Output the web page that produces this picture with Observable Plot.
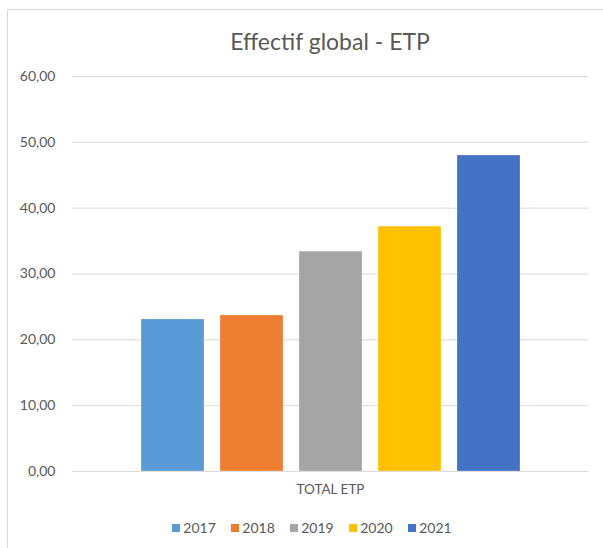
<!DOCTYPE html>
<html>
<head>
<meta charset="utf-8">
<script src="https://cdn.jsdelivr.net/npm/d3@7"></script>
<script src="https://cdn.jsdelivr.net/npm/@observablehq/plot@0.6"></script>
<style>
  html, body { margin: 0; padding: 0; background: #fff; }
  #wrap { position: relative; width: 603px; height: 548px; overflow: hidden; font-family: Lato, "Open Sans", sans-serif; color: #595959; }
  #frame { position: absolute; left: 7px; top: 9px; width: 620px; height: 560px; border: 1px solid #d9d9d9; box-sizing: border-box; }
  #title { position: absolute; left: 0; top: 28px; width: 660px; text-align: center; font-size: 23px; line-height: 1.2; color: #595959; }
  #plot { position: absolute; left: 0; top: 62px; }
  #legend { position: absolute; left: 0; top: 519px; width: 624px; display: flex; justify-content: center; gap: 15.5px; font-size: 14px; line-height: 18px; }
  #legend .item { display: flex; align-items: center; gap: 3px; }
  #legend .sw { width: 8px; height: 8px; display: inline-block; }
</style>
</head>
<body>
<div id="wrap">
  <div id="frame"></div>
  <div id="title"></div>
  <div id="plot"></div>
  <div id="legend"></div>
</div>
<script>
const title = "Effectif global - ETP";
const category = "TOTAL ETP";
const years = ["2017", "2018", "2019", "2020", "2021"];
const values = [23.1, 23.7, 33.4, 37.2, 48.0];
const colors = ["#5B9BD5", "#ED7D31", "#A5A5A5", "#FFC000", "#4472C4"];
const yTicks = [0, 10, 20, 30, 40, 50, 60];

const data = years.map((y, i) => ({year: y, value: values[i]}));
const fmt = v => v.toFixed(2).replace(".", ",");

document.getElementById("title").textContent = title;

const chart = Plot.plot({
  width: 603,
  height: 448,
  marginTop: 14,
  marginBottom: 39,
  marginLeft: 72,
  marginRight: 15,
  style: {fontFamily: "Lato, 'Open Sans', sans-serif", fontSize: "14px", color: "#595959", background: "transparent"},
  x: {domain: years, range: [132, 529], paddingInner: 0.2, paddingOuter: 0.1, axis: null},
  y: {domain: [0, 60], ticks: yTicks, tickFormat: fmt, tickSize: 0, tickPadding: 17, label: null},
  color: {domain: years, range: colors},
  marks: [
    Plot.ruleY(yTicks, {stroke: "#d9d9d9", strokeWidth: 1}),
    Plot.barY(data, {x: "year", y: "value", fill: "year", stroke: "#ffffff", strokeOpacity: 0.5, strokeWidth: 0.5}),
    Plot.text([category], {frameAnchor: "bottom", dy: 22, fill: "#595959", fontSize: 13.5})
  ]
});
document.getElementById("plot").appendChild(chart);

const legend = document.getElementById("legend");
years.forEach((y, i) => {
  const item = document.createElement("div");
  item.className = "item";
  const sw = document.createElement("span");
  sw.className = "sw";
  sw.style.background = colors[i];
  const lab = document.createElement("span");
  lab.textContent = y;
  item.appendChild(sw);
  item.appendChild(lab);
  legend.appendChild(item);
});
</script>
</body>
</html>
